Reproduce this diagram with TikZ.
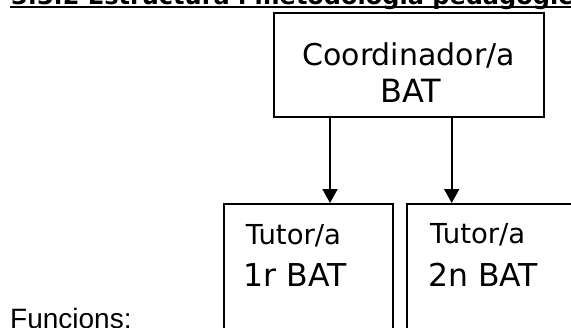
\documentclass[tikz,border=0pt]{standalone}
\usepackage{fontspec}
\setmainfont{DejaVu Sans}
\newfontfamily\arialf{Liberation Sans}
\usetikzlibrary{arrows.meta,calc}
\begin{document}
\begin{tikzpicture}[x=1bp,y=-1bp,
  boxline/.style={draw=black, line width=1.8bp, inner sep=0, fill=none},
  bigtext/.style={font=\fontsize{30bp}{36bp}\selectfont, inner sep=0},
  smalltext/.style={font=\fontsize{27.5bp}{32bp}\selectfont, inner sep=0, anchor=base west},
  bottomtext/.style={font=\fontsize{31.5bp}{36bp}\selectfont, inner sep=0, anchor=base west},
  arr/.style={line width=1.8bp, -{Triangle[length=14bp,width=15bp]}}]
\useasboundingbox (0,0) rectangle (571,327);
\begin{scope}
\clip (0,0) rectangle (571,327);
% heading (cut at top)
\node[anchor=base west, inner sep=0, font=\bfseries\fontsize{24bp}{28bp}\selectfont] (head) at (11,4.5) {3.3.2 Estructura i metodologia pedagògica};
\coordinate (ul0) at (10,7);
\coordinate (ul1) at (580,7);
\draw[line width=2.2bp] (ul0) -- (ul1);
% coordinator box
\node[boxline, anchor=north west, minimum width=270bp, minimum height=104bp] (coord) at (272.7,11.7) {};
\node[bigtext, anchor=base] (ctext1) at ($(coord.north)+(0,53.3)$) {Coordinador/a};
\node[bigtext, anchor=base, font=\fontsize{32bp}{36bp}\selectfont] (ctext2) at ($(coord.north)+(2,90.3)$) {BAT};
% tutor boxes
\node[boxline, anchor=north west, minimum width=169.6bp, minimum height=150bp] (tut1) at (222.7,203) {};
\node[boxline, anchor=north west, minimum width=200bp, minimum height=150bp] (tut2) at (406,203) {};
\node[smalltext] (t1a) at ($(tut1.north west)+(23,41)$) {Tutor/a};
\node[bottomtext] (t1b) at ($(tut1.north west)+(21,83.7)$) {1r BAT};
\node[smalltext] (t2a) at ($(tut2.north west)+(24,40)$) {Tutor/a};
\node[bottomtext] (t2b) at ($(tut2.north west)+(22,83.7)$) {2n BAT};
% connectors
\coordinate (ax1) at (330,0);
\coordinate (ax2) at (451.7,0);
\draw[arr] (coord.south -| ax1) -- (tut1.north -| ax1);
\draw[arr] (coord.south -| ax2) -- (tut2.north -| ax2);
% bottom label
\node[anchor=base west, inner sep=0, font=\arialf\fontsize{28bp}{32bp}\selectfont] (func) at (10,328) {Funcions:};
\end{scope}
\end{tikzpicture}
\end{document}
